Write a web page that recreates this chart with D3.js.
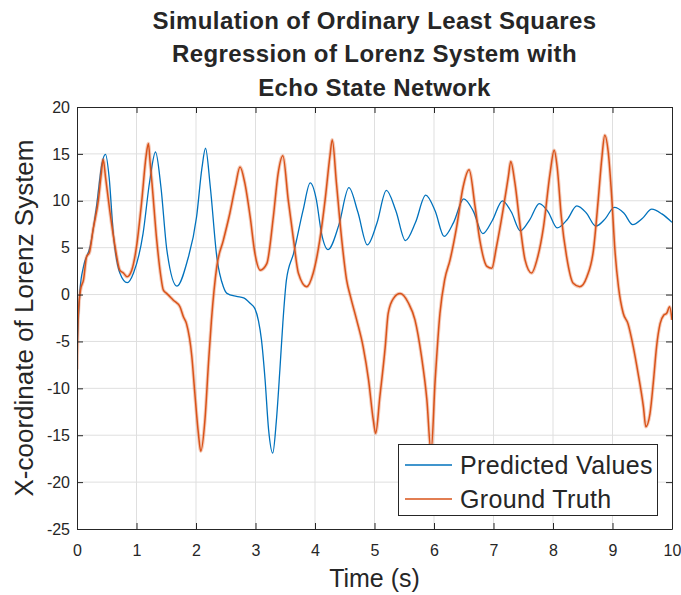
<!DOCTYPE html>
<html><head><meta charset="utf-8">
<script src="https://cdn.jsdelivr.net/npm/d3@7"></script>
<style>body{margin:0;background:#fff}svg{display:block}text{font-family:"Liberation Sans",Arial,Helvetica,sans-serif;fill:#262626}</style>
</head><body>
<script>
const titleLines = ["Simulation of Ordinary Least Squares","Regression of Lorenz System with","Echo State Network"];
const xLabel = "Time (s)";
const yLabel = "X-coordinate of Lorenz System";
const xTicks = [0,1,2,3,4,5,6,7,8,9,10];
const yTicks = [20,15,10,5,0,-5,-10,-15,-20,-25];
const seriesNames = ["Predicted Values","Ground Truth"];
const seriesColors = ["#0072BD","#D95319"];

// Predicted Values (time, value)
const predT = [0,0.05,0.11,0.22,0.33,0.42,0.48,0.54,0.61,0.72,0.845,0.95,1.11,1.22,1.32,1.41,1.51,1.68,1.85,2.01,2.1,2.16,2.24,2.35,2.46,2.52,2.68,2.8,2.91,2.99,3.05,3.1,3.16,3.22,3.29,3.35,3.41,3.46,3.52,3.64,3.8,3.92,4.02,4.11,4.22,4.4,4.57,4.72,4.88,5.04,5.2,5.36,5.52,5.69,5.86,6.02,6.17,6.33,6.5,6.66,6.82,6.98,7.15,7.3,7.45,7.61,7.77,7.92,8.07,8.24,8.4,8.56,8.72,8.88,9.03,9.19,9.34,9.5,9.66,9.83,10];
const predV = [-6,0.5,3.0,5.1,9.5,14.0,14.95,12.5,6.5,2.3,1.27,2.3,6.5,12.0,15.2,11.5,4.76,0.9,3.5,8.3,13.5,15.6,11.5,4.0,0.84,0.13,-0.2,-0.35,-0.93,-1.5,-2.8,-4.8,-9.0,-14.4,-16.9,-13.5,-8.0,-3.0,1.56,4.4,9.0,11.9,10.2,6.5,4.8,7.4,11.4,8.8,5.3,7.6,11.1,8.9,5.75,7.7,10.6,8.9,6.2,7.7,10.2,8.9,6.5,7.9,10.0,8.8,6.8,8.0,9.7,8.8,7.1,8.0,9.45,8.7,7.3,8.1,9.3,8.7,7.45,8.1,9.1,8.6,7.7];

// Ground Truth (time, value)
const truthT = [0,0.02,0.06,0.11,0.16,0.21,0.27,0.36,0.41,0.44,0.48,0.55,0.64,0.72,0.78,0.84,0.92,1.0,1.09,1.16,1.2,1.23,1.26,1.34,1.41,1.45,1.51,1.62,1.73,1.79,1.84,1.93,1.98,2.04,2.08,2.15,2.21,2.26,2.35,2.46,2.57,2.66,2.74,2.82,2.91,2.99,3.08,3.19,3.3,3.38,3.46,3.55,3.64,3.72,3.86,3.97,4.08,4.17,4.25,4.29,4.36,4.45,4.53,4.6,4.7,4.81,4.9,4.98,5.02,5.09,5.18,5.23,5.32,5.43,5.57,5.68,5.79,5.88,5.95,6.02,6.1,6.18,6.27,6.38,6.49,6.59,6.69,6.77,6.89,6.97,7.05,7.16,7.25,7.29,7.36,7.45,7.53,7.64,7.73,7.84,7.95,8.02,8.07,8.14,8.23,8.34,8.45,8.57,8.68,8.76,8.82,8.87,8.93,8.99,9.04,9.1,9.18,9.26,9.35,9.43,9.52,9.56,9.63,9.69,9.74,9.8,9.86,9.91,9.96,10];
const truthV = [-8,-2.3,0.5,1.6,4.0,4.5,6.9,10.1,13.0,14.4,12.5,9.0,5.1,2.6,2.3,1.9,2.6,5.1,10.1,14.7,16.1,14.0,11.9,5.8,1.9,0.5,0.1,-0.6,-1.3,-2.4,-3.1,-6.6,-10.5,-14.8,-16.7,-13.4,-7.3,-2.7,3.0,5.8,8.7,11.5,13.6,11.9,8.3,4.4,2.6,3.3,8.3,12.9,14.8,10.1,5.8,2.3,0.84,2.3,5.8,10.1,14.7,16.5,11.9,5.8,1.6,-0.3,-2.7,-5.6,-9.1,-13.4,-14.8,-10.9,-5.6,-2.0,-0.4,0.1,-0.9,-2.7,-6.6,-11.2,-16.8,-9.1,-2.0,1.6,3.7,7.2,11.5,13.3,9.4,5.8,3.0,2.8,5.1,9.0,12.6,14.2,11.9,7.2,3.7,2.3,3.7,7.2,12.9,15.4,13.6,8.3,4.0,1.2,0.84,1.9,4.76,10.1,14.5,17.0,15.1,10.1,4.8,0.84,-2.0,-3.1,-5.6,-8.4,-12.0,-14.1,-12.7,-9.1,-5.6,-3.1,-2.2,-2.0,-1.3,-2.7];

const W = 681, H = 595;
const m = {left:77, right:672, top:107, bottom:529};
const svg = d3.select("body").append("svg").attr("width",W).attr("height",H);

const x = d3.scaleLinear().domain([0,10]).range([m.left,m.right]);
const y = d3.scaleLinear().domain([-25,20]).range([m.bottom,m.top]);

// grid
const g = svg.append("g");
g.selectAll(".vg").data(xTicks.slice(1,-1)).join("line")
  .attr("x1",d=>x(d)).attr("x2",d=>x(d)).attr("y1",m.top).attr("y2",m.bottom)
  .attr("stroke","#dfdfdf").attr("stroke-width",1);
g.selectAll(".hg").data(yTicks.slice(1,-1)).join("line")
  .attr("y1",d=>y(d)).attr("y2",d=>y(d)).attr("x1",m.left).attr("x2",m.right)
  .attr("stroke","#dfdfdf").attr("stroke-width",1);

const line = d3.line().x(d=>x(d[0])).y(d=>y(d[1])).curve(d3.curveMonotoneX);
const pred = predT.map((t,i)=>[t,predV[i]]);
const truth = truthT.map((t,i)=>[t,truthV[i]]);

svg.append("clipPath").attr("id","clip").append("rect")
  .attr("x",m.left).attr("y",m.top).attr("width",m.right-m.left).attr("height",m.bottom-m.top);
const plot = svg.append("g").attr("clip-path","url(#clip)");
plot.append("path").datum(pred).attr("d",line).attr("fill","none")
  .attr("stroke",seriesColors[0]).attr("stroke-width",1.3);
plot.append("path").datum(truth).attr("d",line).attr("fill","none")
  .attr("stroke",seriesColors[1]).attr("stroke-width",3.5).attr("stroke-opacity",0.3);
plot.append("path").datum(truth).attr("d",line).attr("fill","none")
  .attr("stroke",seriesColors[1]).attr("stroke-width",1.5);

// axes (MATLAB style: inward ticks, box)
const tl = 6;
const fmt = d => String(d);
const axB = d3.axisBottom(x).tickValues(xTicks).tickSizeInner(-tl).tickSizeOuter(0).tickPadding(16).tickFormat(fmt);
const axT = d3.axisTop(x).tickValues(xTicks).tickSizeInner(-tl).tickSizeOuter(0).tickFormat("");
const axL = d3.axisLeft(y).tickValues(yTicks).tickSizeInner(-tl).tickSizeOuter(0).tickPadding(7).tickFormat(fmt);
const axR = d3.axisRight(y).tickValues(yTicks).tickSizeInner(-tl).tickSizeOuter(0).tickFormat("");
function style(sel){
  sel.selectAll("path").attr("stroke","#262626").attr("stroke-width",1);
  sel.selectAll("line").attr("stroke","#262626").attr("stroke-width",1);
  sel.selectAll("text").attr("font-size",16).attr("fill","#262626").style("font-family","'Liberation Sans',Arial,sans-serif");
}
svg.append("g").attr("transform",`translate(0,${m.bottom})`).call(axB).call(style);
svg.append("g").attr("transform",`translate(0,${m.top})`).call(axT).call(style);
svg.append("g").attr("transform",`translate(${m.left},0)`).call(axL).call(style);
svg.append("g").attr("transform",`translate(${m.right},0)`).call(axR).call(style);

// title
svg.append("g").selectAll("text").data(titleLines).join("text")
  .attr("x",(m.left+m.right)/2).attr("y",(d,i)=>28.5+i*33.5)
  .attr("text-anchor","middle").attr("font-size",24).attr("letter-spacing",0.4)
  .attr("font-weight","bold").attr("fill","#000").text(d=>d);

svg.append("text").attr("x",(m.left+m.right)/2).attr("y",587).attr("text-anchor","middle")
  .attr("font-size",25).text(xLabel);
svg.append("text").attr("transform",`translate(33,${(m.top+m.bottom)/2}) rotate(-90)`)
  .attr("text-anchor","middle").attr("font-size",26).text(yLabel);

// legend
const lg = svg.append("g");
lg.append("rect").attr("x",398.5).attr("y",444.5).attr("width",259).attr("height",71)
  .attr("fill","#fff").attr("stroke","#262626").attr("stroke-width",1);
seriesNames.forEach((n,i)=>{
  const yy = 465 + i*34;
  lg.append("line").attr("x1",405).attr("x2",452).attr("y1",yy).attr("y2",yy)
    .attr("stroke",seriesColors[i]).attr("stroke-width",1.4);
  lg.append("text").attr("x",460).attr("y",yy+8.5).attr("font-size",25)
    .attr("letter-spacing",0.35).text(n);
});
</script>
</body></html>
